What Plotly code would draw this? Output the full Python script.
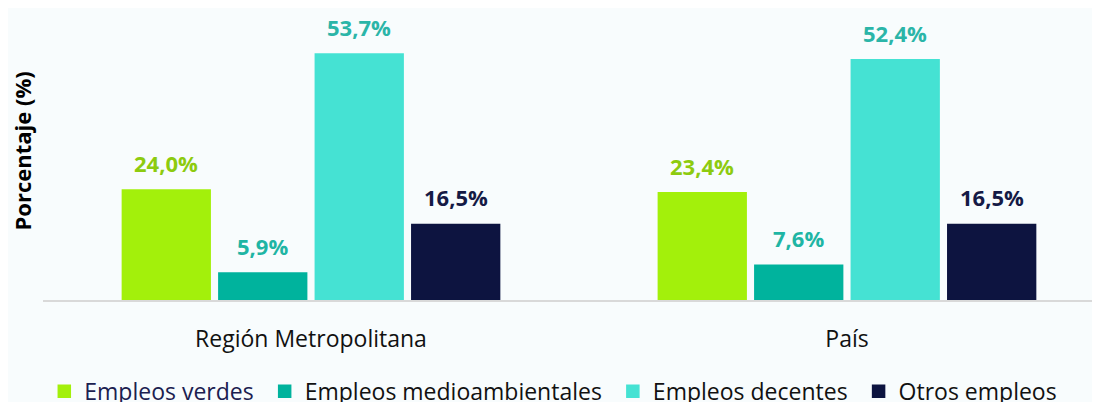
import plotly.graph_objects as go

categories = ["Región Metropolitana", "País"]
series_names = ["Empleos verdes", "Empleos medioambientales", "Empleos decentes", "Otros empleos"]
values = {
    "Empleos verdes": [24.0, 23.4],
    "Empleos medioambientales": [5.9, 7.6],
    "Empleos decentes": [53.7, 52.4],
    "Otros empleos": [16.5, 16.5],
}
bar_colors = ["#A3F00B", "#00B39D", "#45E2D3", "#0D1440"]
label_colors = ["#8DCB0F", "#1FB5A4", "#2BB5A8", "#151A45"]
legend_text_colors = ["#1B2050", "#111111", "#111111", "#111111"]

FONT = "Open Sans"
BG = "#F8FCFD"
bargap = 0.28
bargroupgap = 0.09

fig = go.Figure()
for i, name in enumerate(series_names):
    fig.add_trace(go.Bar(
        x=categories,
        y=values[name],
        name=f"<span style='color:{legend_text_colors[i]}'>{name}</span>&nbsp;",
        marker=dict(color=bar_colors[i], line=dict(color=bar_colors[i], width=1.5)),
        hoverinfo="skip",
    ))

# value labels above bars
slot = (1 - bargap) / len(series_names)
annotations = []
for i, name in enumerate(series_names):
    for j, cat in enumerate(categories):
        v = values[name][j]
        annotations.append(dict(
            x=j + (i - (len(series_names) - 1) / 2) * slot,
            y=v, xref="x", yref="y",
            text=f"<b>{v:.1f}%</b>".replace(".", ","),
            showarrow=False, yanchor="middle", yshift=27,
            font=dict(family=FONT, size=22, color=label_colors[i]),
        ))

annotations.append(dict(
    x=0, y=0.54, xref="paper", yref="paper", xshift=-22,
    text="<b>Porcentaje (%)</b>", textangle=-90, showarrow=False,
    xanchor="center", yanchor="middle",
    font=dict(family=FONT, size=22, color="#000000"),
))

fig.update_layout(
    width=1100, height=402,
    margin=dict(l=35, r=0, t=17, b=110),
    paper_bgcolor=BG, plot_bgcolor=BG,
    barmode="group", bargap=bargap, bargroupgap=bargroupgap,
    font=dict(family=FONT, color="#111111"),
    showlegend=True,
    legend=dict(
        orientation="h", xref="container", yref="container",
        x=0.033, y=0.1, xanchor="left", yanchor="top",
        font=dict(family=FONT, size=23, color="#111111"),
        bgcolor="rgba(0,0,0,0)", traceorder="normal",
    ),
    annotations=annotations,
    xaxis=dict(
        type="category", range=[-0.5, 1.487],
        showline=True, linecolor="#D9D9D9", linewidth=1.5,
        showgrid=False, ticks="", ticklabelstandoff=18,
        tickfont=dict(family=FONT, size=23, color="#111111"),
        fixedrange=True,
    ),
    yaxis=dict(
        range=[0, 60], showticklabels=False, showgrid=False,
        zeroline=False, showline=False, fixedrange=True,
    ),
)

fig.write_html("out.html")
